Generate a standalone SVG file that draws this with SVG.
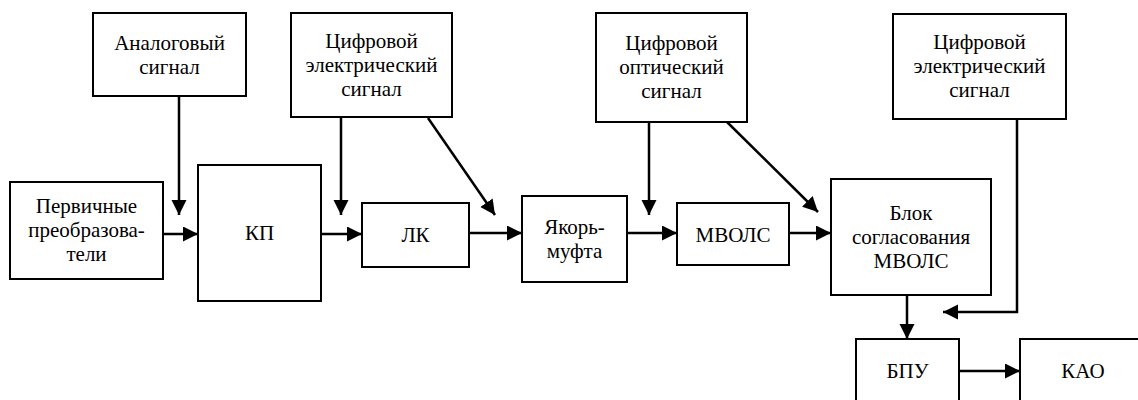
<svg xmlns="http://www.w3.org/2000/svg" width="1138" height="400" viewBox="0 0 1138 400">
<defs>
<marker id="ah" markerUnits="userSpaceOnUse" markerWidth="16" markerHeight="16" refX="15" refY="7.5" orient="auto">
<path d="M0,0 L15,7.5 L0,15 z" fill="#000"/>
</marker>
</defs>
<rect width="1138" height="400" fill="#fff"/>
<g id="connectors" fill="none" stroke="#000" stroke-width="2.5">
<line x1="179" y1="96" x2="179" y2="215" marker-end="url(#ah)"/>
<line x1="163" y1="234" x2="198" y2="234" marker-end="url(#ah)"/>
<line x1="341" y1="117" x2="341" y2="215" marker-end="url(#ah)"/>
<line x1="321" y1="234" x2="362" y2="234" marker-end="url(#ah)"/>
<line x1="428" y1="118" x2="495" y2="215" marker-end="url(#ah)"/>
<line x1="469" y1="233" x2="522" y2="233" marker-end="url(#ah)"/>
<line x1="649" y1="122" x2="649" y2="215" marker-end="url(#ah)"/>
<line x1="627" y1="233" x2="677" y2="233" marker-end="url(#ah)"/>
<line x1="726" y1="121" x2="818" y2="212" marker-end="url(#ah)"/>
<line x1="789" y1="233" x2="831" y2="233" marker-end="url(#ah)"/>
<polyline points="1017,119 1017,312 943,312" marker-end="url(#ah)"/>
<line x1="907" y1="295" x2="907" y2="339" marker-end="url(#ah)"/>
<line x1="956" y1="371" x2="1020" y2="371" marker-end="url(#ah)"/>
</g>
<g font-family="Liberation Serif" font-size="21" text-anchor="middle">
<g id="analog">
<rect x="93" y="13" width="153" height="83" fill="#fff" stroke="#000" stroke-width="2"/>
<text font-family="Liberation Serif" font-size="21" x="169.5" y="50">Аналоговый</text>
<text font-family="Liberation Serif" font-size="21" x="169.5" y="74">сигнал</text>
</g>
<g id="digital-el-1">
<rect x="291" y="13" width="161" height="104" fill="#fff" stroke="#000" stroke-width="2"/>
<text font-family="Liberation Serif" font-size="21" x="371.5" y="48">Цифровой</text>
<text font-family="Liberation Serif" font-size="21" x="371.5" y="72">электрический</text>
<text font-family="Liberation Serif" font-size="21" x="371.5" y="96">сигнал</text>
</g>
<g id="digital-opt">
<rect x="596" y="13" width="151" height="109" fill="#fff" stroke="#000" stroke-width="2"/>
<text font-family="Liberation Serif" font-size="21" x="671.5" y="50">Цифровой</text>
<text font-family="Liberation Serif" font-size="21" x="671.5" y="74">оптический</text>
<text font-family="Liberation Serif" font-size="21" x="671.5" y="98">сигнал</text>
</g>
<g id="digital-el-2">
<rect x="893" y="14" width="173" height="105" fill="#fff" stroke="#000" stroke-width="2"/>
<text font-family="Liberation Serif" font-size="21" x="979.5" y="49">Цифровой</text>
<text font-family="Liberation Serif" font-size="21" x="979.5" y="73">электрический</text>
<text font-family="Liberation Serif" font-size="21" x="979.5" y="97">сигнал</text>
</g>
<g id="primary">
<rect x="10" y="182" width="153" height="97" fill="#fff" stroke="#000" stroke-width="2"/>
<text font-family="Liberation Serif" font-size="21" x="86.5" y="213">Первичные</text>
<text font-family="Liberation Serif" font-size="21" x="86.5" y="237">преобразова-</text>
<text font-family="Liberation Serif" font-size="21" x="86.5" y="261">тели</text>
</g>
<g id="kp">
<rect x="198" y="165" width="123" height="136" fill="#fff" stroke="#000" stroke-width="2"/>
<text font-family="Liberation Serif" font-size="21" x="259.5" y="240">КП</text>
</g>
<g id="lk">
<rect x="362" y="203" width="107" height="64" fill="#fff" stroke="#000" stroke-width="2"/>
<text font-family="Liberation Serif" font-size="21" x="415.5" y="242">ЛК</text>
</g>
<g id="anchor">
<rect x="522" y="196" width="105" height="86" fill="#fff" stroke="#000" stroke-width="2"/>
<text font-family="Liberation Serif" font-size="21" x="574.5" y="234">Якорь-</text>
<text font-family="Liberation Serif" font-size="21" x="574.5" y="258">муфта</text>
</g>
<g id="mvols">
<rect x="677" y="203" width="112" height="62" fill="#fff" stroke="#000" stroke-width="2"/>
<text font-family="Liberation Serif" font-size="21" x="733" y="242">МВОЛС</text>
</g>
<g id="match">
<rect x="831" y="179" width="160" height="116" fill="#fff" stroke="#000" stroke-width="2"/>
<text font-family="Liberation Serif" font-size="21" x="911" y="220">Блок</text>
<text font-family="Liberation Serif" font-size="21" x="911" y="244">согласования</text>
<text font-family="Liberation Serif" font-size="21" x="911" y="268">МВОЛС</text>
</g>
<g id="bpu">
<rect x="856" y="339" width="103" height="75" fill="#fff" stroke="#000" stroke-width="2"/>
<text font-family="Liberation Serif" font-size="21" x="907.5" y="378">БПУ</text>
</g>
<g id="kao">
<rect x="1020" y="339" width="126" height="75" fill="#fff" stroke="#000" stroke-width="2"/>
<text font-family="Liberation Serif" font-size="21" x="1083" y="378">КАО</text>
</g>
</g>
</svg>
